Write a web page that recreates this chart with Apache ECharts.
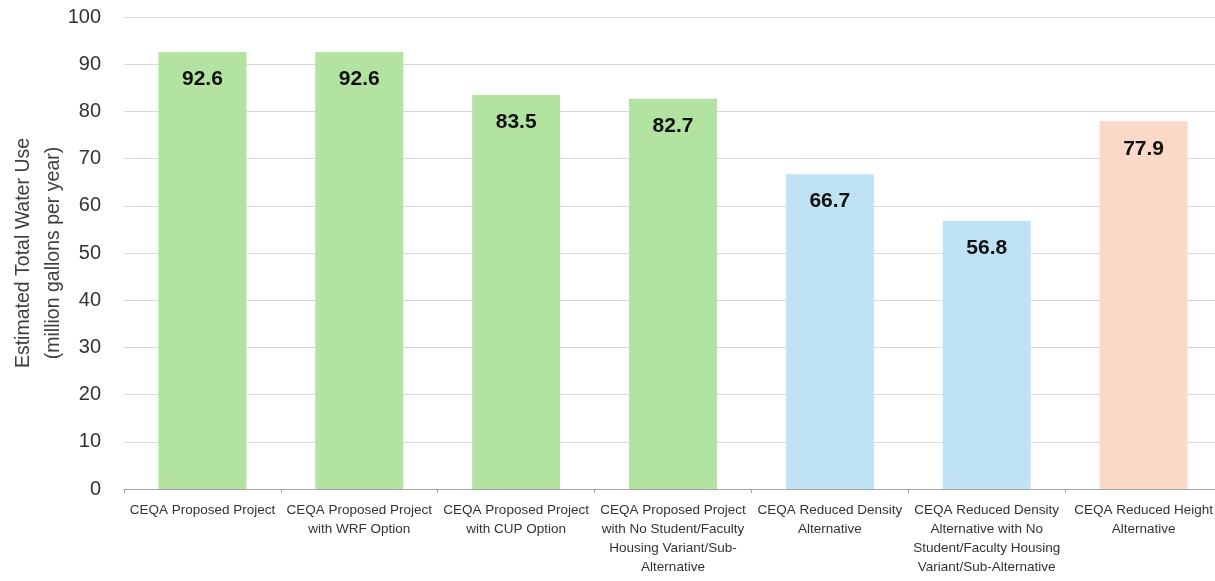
<!DOCTYPE html>
<html>
<head>
<meta charset="utf-8">
<script src="https://cdn.jsdelivr.net/npm/echarts@6/dist/echarts.min.js"></script>
<style>
  html, body { margin: 0; padding: 0; background: #fff; }
  #chart { width: 1215px; height: 581px; }
</style>
</head>
<body>
<div id="chart"></div>
<script>
// categories (line breaks as in the picture)
const categories = [
  'CEQA Proposed Project',
  'CEQA Proposed Project\nwith WRF Option',
  'CEQA Proposed Project\nwith CUP Option',
  'CEQA Proposed Project\nwith No Student/Faculty\nHousing Variant/Sub-\nAlternative',
  'CEQA Reduced Density\nAlternative',
  'CEQA Reduced Density\nAlternative with No\nStudent/Faculty Housing\nVariant/Sub-Alternative',
  'CEQA Reduced Height\nAlternative'
];
const waterUse = [92.6, 92.6, 83.5, 82.7, 66.7, 56.8, 77.9];
const barColors = ['#b3e3a1', '#b3e3a1', '#b3e3a1', '#b3e3a1', '#bfe3f4', '#bfe3f4', '#fbd9c8'];

let chart = echarts.init(document.getElementById('chart'));
chart.setOption({
  animation: false,
  grid: { left: 124, right: -7, top: 17, bottom: 92, outerBoundsMode: 'none', containLabel: false },
  xAxis: {
    type: 'category',
    data: categories,
    axisLine: { lineStyle: { color: '#a6a6a6', width: 1 } },
    axisTick: { show: true, length: 4, lineStyle: { color: '#a6a6a6' } },
    axisLabel: {
      interval: 0,
      color: '#333',
      fontFamily: 'Liberation Sans',
      fontSize: 13.5,
      lineHeight: 19,
      margin: 12
    }
  },
  yAxis: {
    type: 'value',
    min: 0,
    max: 100,
    interval: 10,
    name: 'Estimated Total Water Use\n(million gallons per year)',
    nameLocation: 'middle',
    nameGap: 55,
    nameMoveOverlap: false,
    nameTextStyle: { color: '#404040', fontSize: 19.5, fontFamily: 'Liberation Sans', lineHeight: 30 },
    axisLine: { show: false },
    axisTick: { show: false },
    axisLabel: { color: '#333', fontSize: 20, fontFamily: 'Liberation Sans', margin: 23 },
    splitLine: { lineStyle: { color: '#d9d9d9', width: 1 } }
  },
  series: [
    {
      type: 'bar',
      data: waterUse.map((v, i) => ({ value: v, itemStyle: { color: barColors[i] } })),
      barWidth: 88,
      label: {
        show: true,
        position: 'insideTop',
        distance: 17,
        color: '#111',
        fontWeight: 'bold',
        fontSize: 21,
        fontFamily: 'Liberation Sans',
        formatter: p => p.value.toFixed(1)
      }
    }
  ]
});
window.onresize = () => chart.resize();
</script>
</body>
</html>
